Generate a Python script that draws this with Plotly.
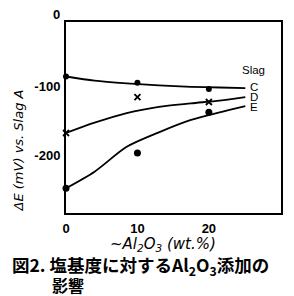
import plotly.graph_objects as go

# Fitted curves
curve_x = [0, 4, 8.5, 13, 17.5, 21.5, 25.1]
curve_C = [-86, -92, -96, -99, -101, -102, -103]
curve_D = [-168, -153, -139, -130, -125, -121, -116]
curve_E = [-248, -224, -188, -167, -149, -138, -129]

# Measured points
pts_x = [0, 10, 20]
pts_C = [-86, -95, -104]
pts_D = [-168, -116, -123]
pts_E = [-248, -197, -138]

x_ticks = [0, 10, 20]
y_ticks = [-100, -200]
y_ticktext = ["-100", "-200"]

labels = ["Slag", "C", "D", "E"]
label_y = [-77, -101, -116, -130]

fig = go.Figure()
for cy in [curve_C, curve_D, curve_E]:
    fig.add_trace(go.Scatter(x=curve_x, y=cy, mode="lines",
                             line=dict(color="black", width=1.8, shape="spline", smoothing=0.8),
                             cliponaxis=False, showlegend=False, hoverinfo="skip"))
fig.add_trace(go.Scatter(x=pts_x, y=pts_C, mode="markers",
                         marker=dict(symbol="circle", size=6, color="black"),
                         cliponaxis=False, showlegend=False))
fig.add_trace(go.Scatter(x=pts_x, y=pts_D, mode="markers",
                         marker=dict(symbol="x-thin", size=6, line=dict(color="black", width=1.8)),
                         cliponaxis=False, showlegend=False))
fig.add_trace(go.Scatter(x=pts_x, y=pts_E, mode="markers",
                         marker=dict(symbol="circle", size=7, color="black"),
                         cliponaxis=False, showlegend=False))

tickfont = dict(family="Liberation Sans", size=13, color="black", weight="bold")
fig.update_xaxes(range=[0, 30.1], tickvals=x_ticks, ticks="", showgrid=False, zeroline=False,
                 showline=True, linecolor="black", linewidth=2, mirror=True,
                 tickfont=tickfont, ticklabelstandoff=2)
fig.update_yaxes(range=[-284, -7], tickvals=y_ticks, ticktext=y_ticktext, ticks="",
                 showgrid=False, zeroline=False,
                 showline=True, linecolor="black", linewidth=2, mirror=True,
                 tickfont=tickfont, ticklabelstandoff=1)

W, H = 294, 296
L, R, T, B = 66, 11, 22, 83
pw, ph = W - L - R, H - T - B

def px(x):
    return (x - L) / pw

def py(y):
    return (H - B - y) / ph

ann = []
# top "0" tick label (sits above the frame)
ann.append(dict(x=px(56), y=py(15), xref="paper", yref="paper", text="0", showarrow=False,
                xanchor="center", yanchor="middle", font=tickfont))
for t, yy in zip(labels, label_y):
    ann.append(dict(x=26.3, y=yy, xref="x", yref="y", text=t, showarrow=False,
                    xanchor="center", yanchor="middle",
                    font=dict(family="Liberation Sans", size=11.5, color="black")))
ann.append(dict(x=px(18), y=py(150), xref="paper", yref="paper",
                text="ΔE (mV) vs. Slag A", textangle=-90, showarrow=False,
                xanchor="center", yanchor="middle",
                font=dict(family="DejaVu Sans", size=13, color="black", style="italic")))
ann.append(dict(x=px(164), y=py(244), xref="paper", yref="paper",
                text="~Al<sub>2</sub>O<sub>3</sub> (wt.%)", showarrow=False,
                xanchor="center", yanchor="middle",
                font=dict(family="DejaVu Sans", size=15, color="black", style="italic")))
ann.append(dict(x=px(9), y=py(266), xref="paper", yref="paper",
                text="図2. 塩基度に対するAl<sub>2</sub>O<sub>3</sub>添加の", showarrow=False,
                xanchor="left", yanchor="middle",
                font=dict(family="Noto Sans CJK JP", size=17.5, color="black", weight="bold")))
ann.append(dict(x=px(50), y=py(285), xref="paper", yref="paper",
                text="影響", showarrow=False,
                xanchor="left", yanchor="middle",
                font=dict(family="Noto Sans CJK JP", size=16, color="black", weight="bold")))

fig.update_layout(width=W, height=H, margin=dict(l=L, r=R, t=T, b=B),
                  paper_bgcolor="white", plot_bgcolor="white", annotations=ann)
fig.write_html("out.html", config={"displayModeBar": False},
               post_script="document.body.style.margin='0';")
